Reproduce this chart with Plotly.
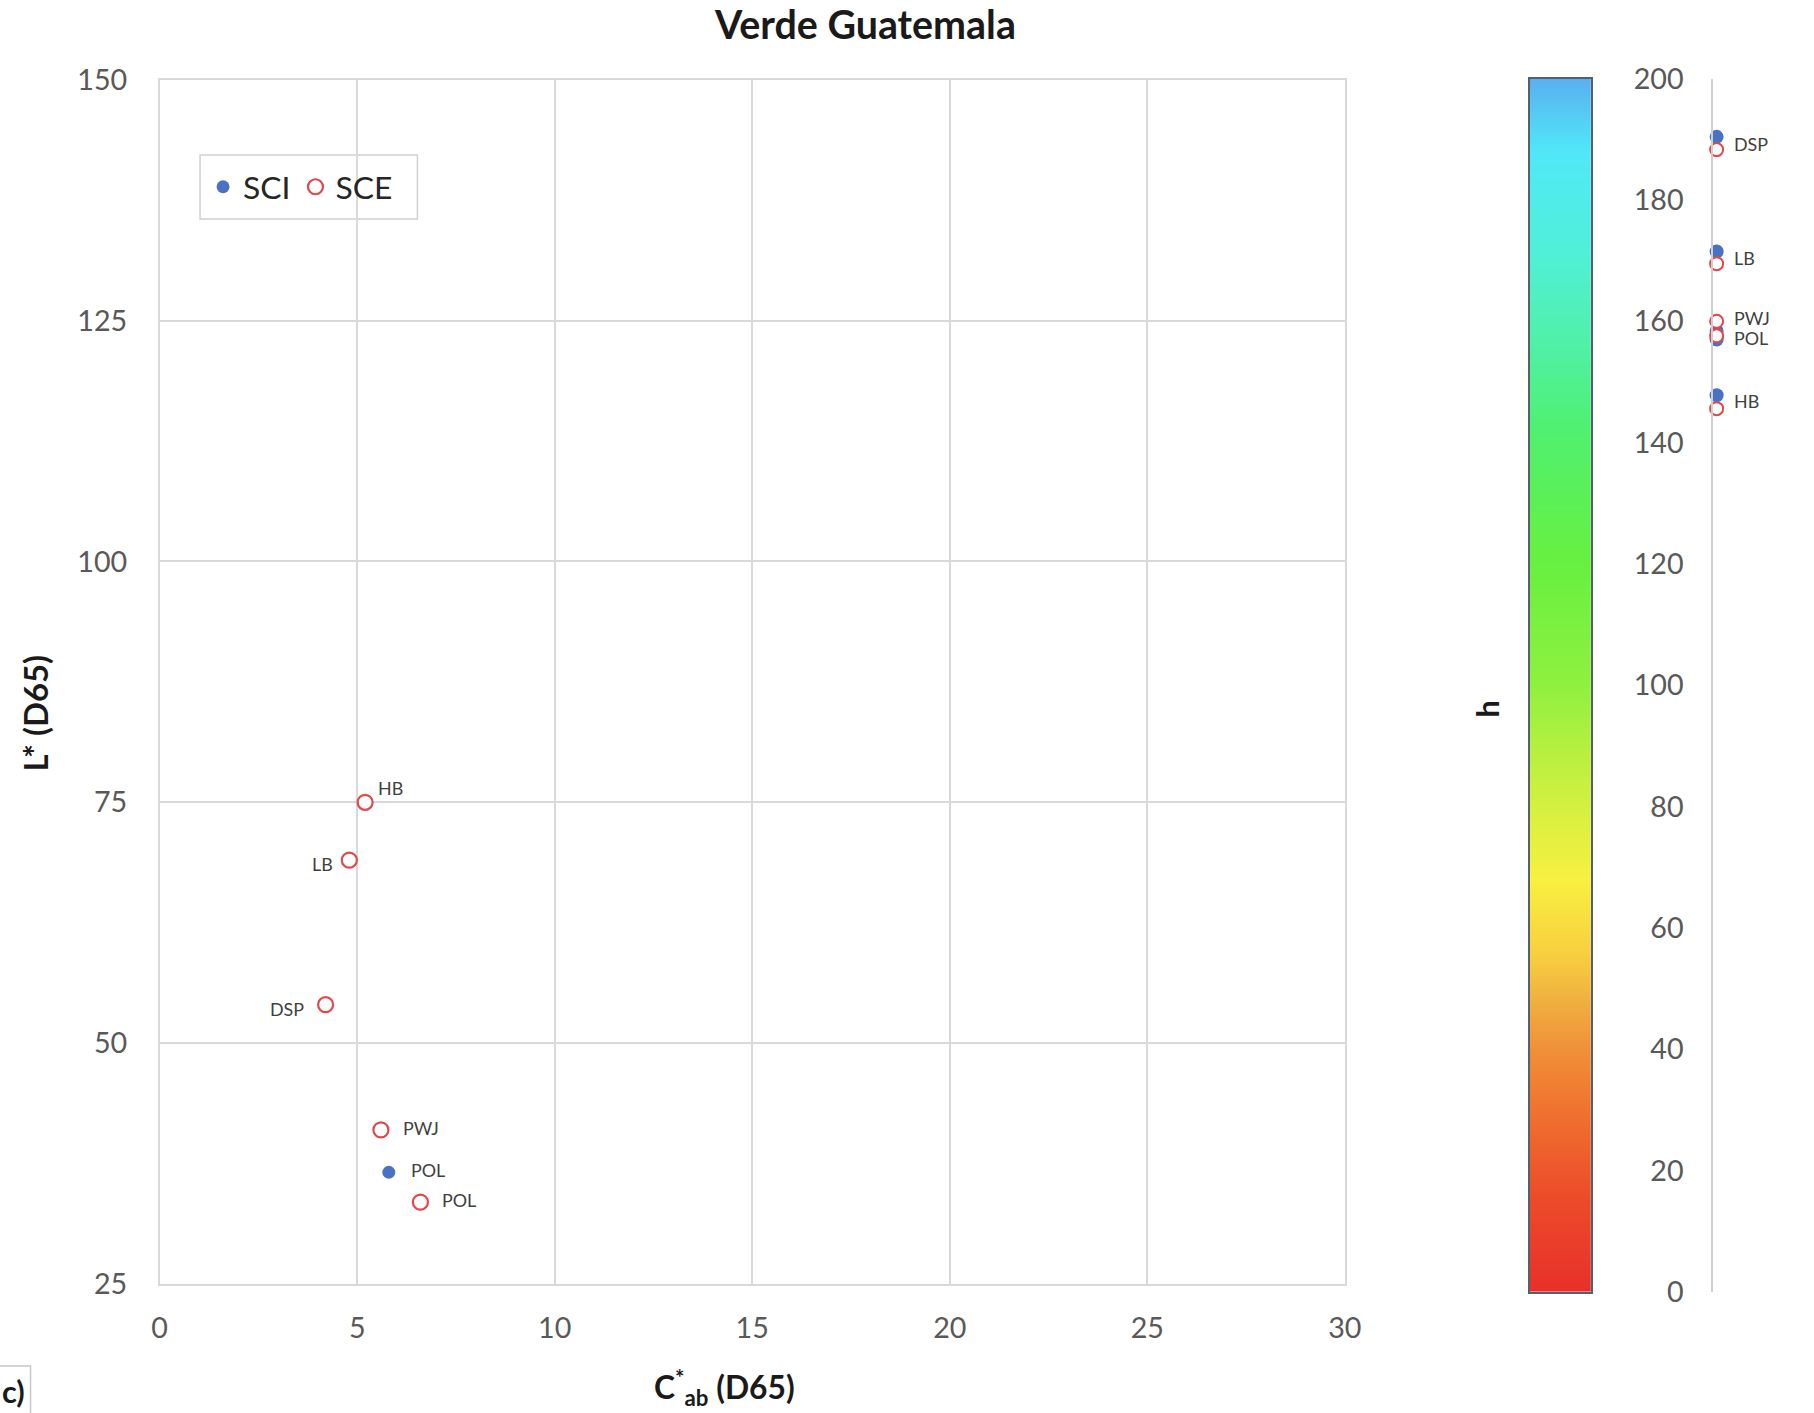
import plotly.graph_objects as go

# Sample codes and colour coordinates (D65)
samples = ["HB", "LB", "DSP", "PWJ", "POL"]

sci_chroma = [5.2, 4.8, 4.2, 5.6, 5.8]
sci_lightness = [75.0, 69.0, 54.0, 41.0, 36.6]
sci_hue = [147.8, 171.5, 190.4, 158.4, 157.0]

sce_chroma = [5.2, 4.8, 4.2, 5.6, 6.6]
sce_lightness = [75.0, 69.0, 54.0, 41.0, 33.5]
sce_hue = [145.6, 169.5, 188.3, 160.0, 157.6]

# label side for each point on the C*-L* plane
sci_label_side = [None, None, None, None, "right"]
sce_label_side = ["right-up", "left", "far-left", "right", "right"]

# hue strip labels
strip_labels = ["HB", "LB", "DSP", "PWJ", "POL"]
strip_label_hue = [146.8, 170.5, 189.2, 160.6, 157.2]

x_ticks = [0, 5, 10, 15, 20, 25, 30]
y_ticks = [25, 50, 75, 100, 125, 150]
h_ticks = [0, 20, 40, 60, 80, 100, 120, 140, 160, 180, 200]
hue_levels = list(range(0, 201))

W, H = 1814, 1413
FONT = "Lato"
SCI_COLOR = "#4a72c4"
SCE_COLOR = "#e0484a"
GRID = "#d9d9d9"
TICK_COLOR = "#595959"

# page frame: pixel positions on the page -> paper fractions
FRAME_SX, FRAME_OX = 0.989, 6.4
FRAME_SY, FRAME_OY = 0.976, 16.9


def fx(px):
    return (px - FRAME_OX) / FRAME_SX / W


def fy(py):
    return 1 - (py - FRAME_OY) / FRAME_SY / H


def fs(size):
    return round(size / FRAME_SY, 1)


hue_scale = [
    [0.00, "#e8302a"], [0.075, "#ec4a2a"], [0.16, "#f07830"], [0.20, "#f09038"],
    [0.24, "#f0b040"], [0.28, "#f8d040"], [0.34, "#f8f040"], [0.42, "#c8f040"],
    [0.50, "#90f040"], [0.60, "#68f040"], [0.71, "#50f070"], [0.77, "#50f0a0"],
    [0.855, "#50f0d8"], [0.94, "#50e8f8"], [1.00, "#5ab0f0"],
]

fig = go.Figure()

# main C*ab vs L* scatter
fig.add_trace(go.Scatter(
    x=sci_chroma, y=sci_lightness, mode="markers", name="SCI",
    marker=dict(color=SCI_COLOR, size=13, line=dict(width=0)),
    xaxis="x", yaxis="y", cliponaxis=False,
))
fig.add_trace(go.Scatter(
    x=sce_chroma, y=sce_lightness, mode="markers", name="SCE",
    marker=dict(color="white", size=15, line=dict(color=SCE_COLOR, width=2.2)),
    xaxis="x", yaxis="y", cliponaxis=False,
))

# hue gradient bar
fig.add_trace(go.Heatmap(
    z=[[v] for v in hue_levels], y=hue_levels, x=[0],
    colorscale=hue_scale, zmin=0, zmax=200, showscale=False,
    zsmooth="best", xaxis="x3", yaxis="y3", hoverinfo="skip",
))

# hue strip markers
fig.add_trace(go.Scatter(
    x=[0.04] * len(sci_hue), y=sci_hue, mode="markers", showlegend=False,
    marker=dict(color=SCI_COLOR, size=14),
    xaxis="x2", yaxis="y2", cliponaxis=False,
))
fig.add_trace(go.Scatter(
    x=[0.04] * len(sce_hue), y=sce_hue, mode="markers", showlegend=False,
    marker=dict(color="white", size=13, line=dict(color=SCE_COLOR, width=2)),
    xaxis="x2", yaxis="y2", cliponaxis=False,
))

annotations = []
label_font = dict(family=FONT, size=fs(17.5), color="#404040")


# point labels on the main plot
def add_point_label(name, cx, ly, side):
    if side is None:
        return
    if side in ("left", "far-left"):
        annotations.append(dict(x=cx, y=ly, xref="x", yref="y", text=name, showarrow=False,
                                xanchor="right", xshift=-14 if side == "left" else -20,
                                yshift=-4, font=label_font))
    elif side == "right-up":
        annotations.append(dict(x=cx, y=ly, xref="x", yref="y", text=name, showarrow=False,
                                xanchor="left", xshift=11, yshift=14, font=label_font))
    else:
        annotations.append(dict(x=cx, y=ly, xref="x", yref="y", text=name, showarrow=False,
                                xanchor="left", xshift=20, yshift=2, font=label_font))


for n, cx, ly, s in zip(samples, sci_chroma, sci_lightness, sci_label_side):
    add_point_label(n, cx, ly, s)
for n, cx, ly, s in zip(samples, sce_chroma, sce_lightness, sce_label_side):
    add_point_label(n, cx, ly, s)

# hue strip labels
for n, hv in zip(strip_labels, strip_label_hue):
    annotations.append(dict(x=0.22, y=hv, xref="x2", yref="y2", text=n, showarrow=False,
                            xanchor="left", font=label_font))

# titles
annotations += [
    dict(x=fx(866), y=fy(22.5), xref="paper", yref="paper",
         text="<b>Verde Guatemala</b>", showarrow=False, xanchor="center", yanchor="middle",
         font=dict(family=FONT, size=fs(38.5), color="#1a1a1a")),
    dict(x=fx(725), y=fy(1386), xref="paper", yref="paper",
         text="<b>C<sup>*</sup><sub>ab</sub> (D65)</b>", showarrow=False,
         xanchor="center", yanchor="middle",
         font=dict(family=FONT, size=fs(31), color="#1a1a1a")),
    dict(x=fx(34), y=fy(712), xref="paper", yref="paper",
         text="<b>L* (D65)</b>", showarrow=False, textangle=-90,
         xanchor="center", yanchor="middle",
         font=dict(family=FONT, size=fs(32), color="#1a1a1a")),
    dict(x=fx(1490), y=fy(708), xref="paper", yref="paper",
         text="<b>h</b>", showarrow=False, textangle=-90,
         xanchor="center", yanchor="middle",
         font=dict(family=FONT, size=fs(30), color="#1a1a1a")),
    dict(x=fx(-2), y=fy(1390), xref="paper", yref="paper",
         text="<b>c)</b>", showarrow=False, xanchor="left", yanchor="middle",
         font=dict(family=FONT, size=fs(30), color="#1a1a1a")),
]

shapes = [
    # panel tag frame
    dict(type="rect", xref="paper", yref="paper",
         x0=fx(-5), x1=fx(29), y0=fy(1425), y1=fy(1365),
         line=dict(color="#c8c8c8", width=1.5), fillcolor="rgba(0,0,0,0)"),
    # legend frame
    dict(type="rect", xref="paper", yref="paper",
         x0=fx(199), x1=fx(417), y0=fy(218), y1=fy(154),
         line=dict(color="#d0d0d0", width=1.5), fillcolor="white", layer="below"),
]

main_x_dom = [fx(158.5), fx(1347)]
main_y_dom = [fy(1283), fy(78.7)]
hue_y_dom = [fy(1291), fy(77.5)]

tickfont = dict(family=FONT, size=fs(28), color=TICK_COLOR)

fig.update_layout(
    width=W, height=H,
    margin=dict(l=0, r=0, t=0, b=0),
    paper_bgcolor="white", plot_bgcolor="white",
    font=dict(family=FONT),
    showlegend=True,
    legend=dict(
        orientation="h", x=fx(202), y=fy(186), xanchor="left", yanchor="middle",
        bgcolor="rgba(0,0,0,0)", borderwidth=0,
        font=dict(family=FONT, size=fs(31), color="#262626"),
        itemwidth=30, tracegroupgap=0,
    ),
    xaxis=dict(
        domain=main_x_dom, anchor="y", range=[0, 30], tickvals=x_ticks,
        showgrid=True, gridcolor=GRID, gridwidth=1.5, zeroline=False,
        showline=True, linecolor=GRID, linewidth=1.5, mirror=True,
        ticks="", ticklabelstandoff=18, tickfont=tickfont,
    ),
    yaxis=dict(
        domain=main_y_dom, anchor="x", range=[25, 150], tickvals=y_ticks,
        showgrid=True, gridcolor=GRID, gridwidth=1.5, zeroline=False,
        showline=True, linecolor=GRID, linewidth=1.5, mirror=True,
        ticks="", ticklabelstandoff=25, tickfont=tickfont,
    ),
    xaxis2=dict(
        domain=[fx(1716.5), 1.0], anchor="y2", range=[0, 1],
        showgrid=False, zeroline=False, showline=False, showticklabels=False, ticks="",
    ),
    yaxis2=dict(
        domain=hue_y_dom, anchor="x2", range=[0, 200], tickvals=h_ticks, side="left",
        showgrid=False, zeroline=False, showline=True, linecolor="#d0d0d0", linewidth=2,
        ticks="", ticklabelstandoff=22, tickfont=tickfont,
    ),
    xaxis3=dict(
        domain=[fx(1532.5), fx(1594)], anchor="y3", range=[-0.5, 0.5],
        showgrid=False, zeroline=False, showticklabels=False, ticks="",
        showline=True, linecolor="#56606a", linewidth=1.5, mirror=True,
    ),
    yaxis3=dict(
        domain=hue_y_dom, anchor="x3", range=[0, 200],
        showgrid=False, zeroline=False, showticklabels=False, ticks="",
        showline=True, linecolor="#56606a", linewidth=1.5, mirror=True,
    ),
    annotations=annotations,
    shapes=shapes,
)

# let the figure sit flush in the page
page_css = (
    "document.body.style.margin='0';"
    "document.body.style.padding='0';"
    "document.documentElement.style.overflow='hidden';"
)

fig.write_html("out.html", post_script=page_css)
